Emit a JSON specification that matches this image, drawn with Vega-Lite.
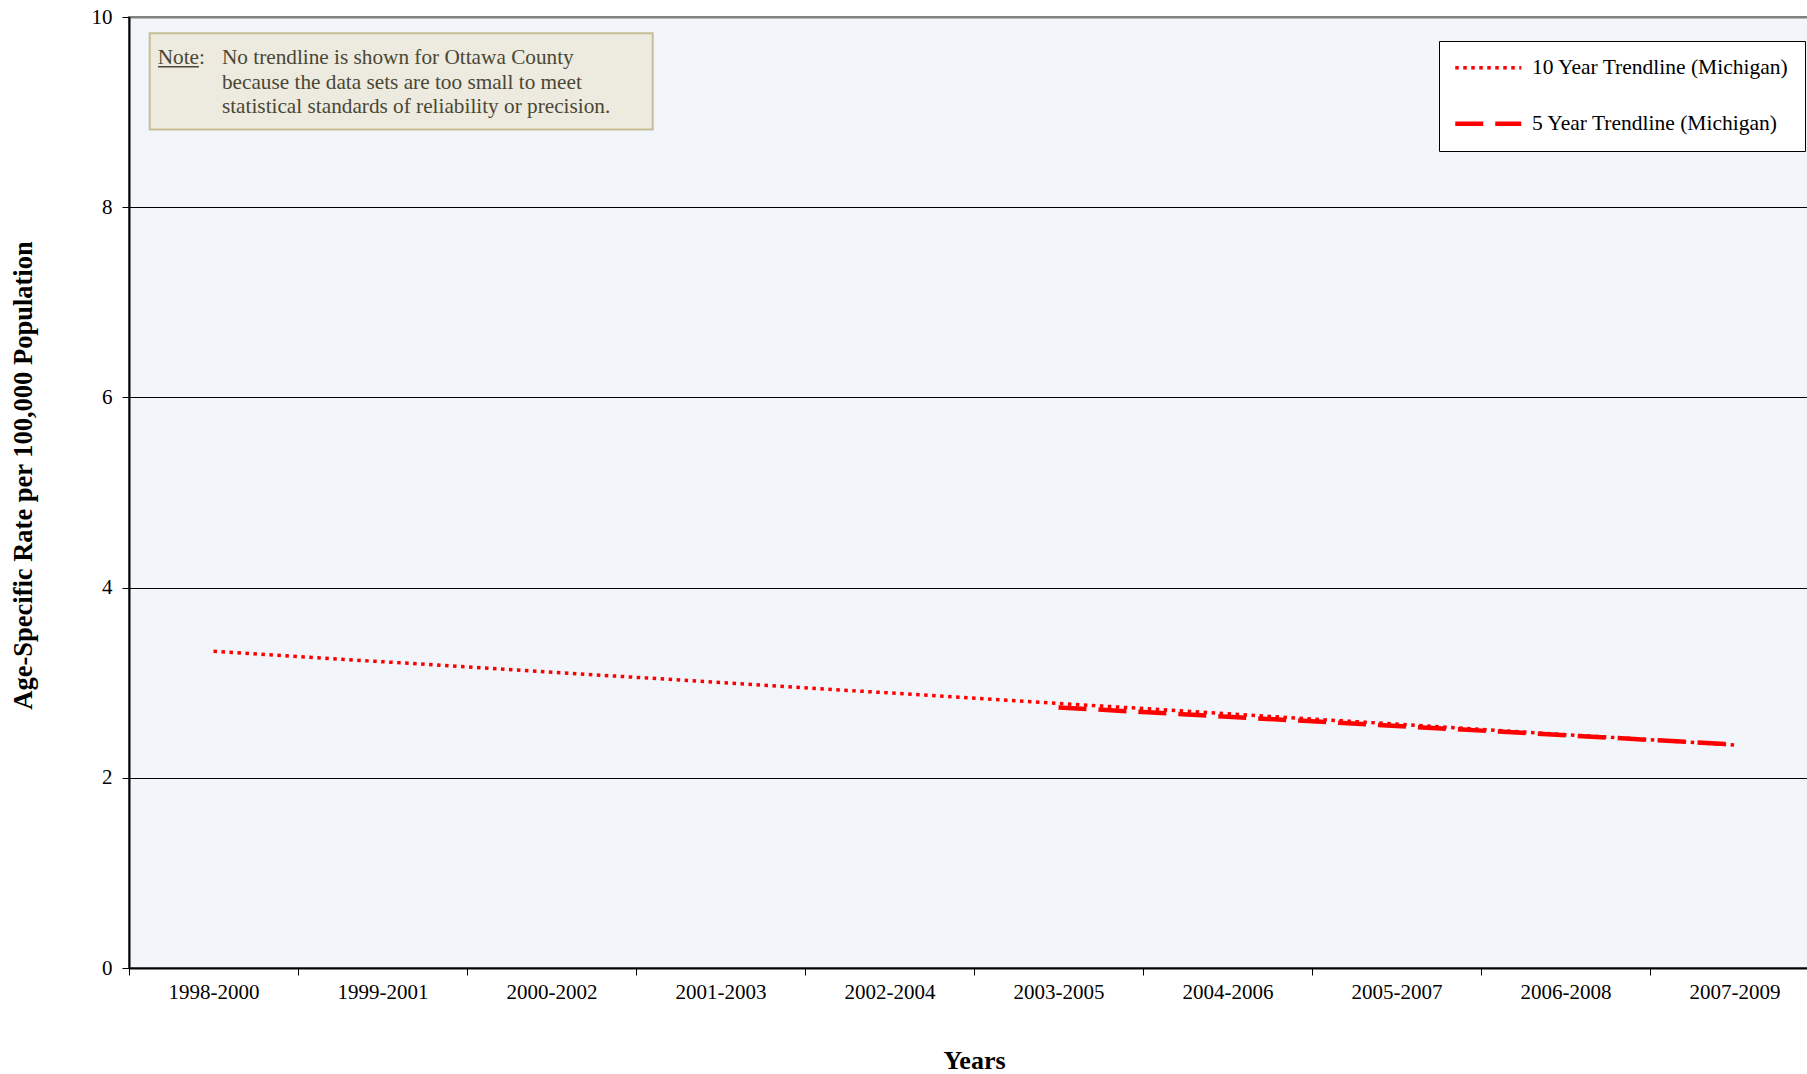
{
  "$schema": "https://vega.github.io/schema/vega-lite/v6.json",
  "autosize": "none",
  "width": 1690,
  "height": 951,
  "padding": {"left": 129, "top": 17, "right": 0, "bottom": 106},
  "background": "white",
  "config": {
    "font": "Liberation Serif",
    "view": {"fill": "#F2F5FA", "stroke": "#808080", "strokeWidth": 2},
    "legend": {
      "orient": "none",
      "legendX": 1310,
      "legendY": 24,
      "fillColor": "white",
      "strokeColor": "black",
      "strokeWidth": 1,
      "padding": 16,
      "cornerRadius": 0,
      "symbolType": "M-4.125,0H4.125",
      "symbolSize": 256,
      "symbolOffset": 22.5,
      "labelOffset": 33,
      "rowPadding": 33,
      "labelFont": "Liberation Serif",
      "labelFontSize": 21.5,
      "labelColor": "black",
      "labelLimit": 0
    }
  },
  "datasets": {
    "trend": [
      {"period": "1998-2000", "rate": 3.33, "series": "10 Year Trendline (Michigan)"},
      {"period": "2007-2009", "rate": 2.345, "series": "10 Year Trendline (Michigan)"},
      {"period": "2003-2005", "rate": 2.74, "series": "5 Year Trendline (Michigan)"},
      {"period": "2007-2009", "rate": 2.35, "series": "5 Year Trendline (Michigan)"}
    ],
    "note": [
      {"label": "Note:", "body": "No trendline is shown for Ottawa County\nbecause the data sets are too small to meet\nstatistical standards of reliability or precision."}
    ]
  },
  "resolve": {"scale": {"x": "independent", "y": "independent"}},
  "layer": [
    {
      "data": {"name": "note"},
      "mark": {"type": "rect", "fill": "#EDEAE0", "stroke": "#C8BE96", "strokeWidth": 2},
      "encoding": {
        "x": {"datum": 0.1225, "type": "quantitative", "scale": {"domain": [0, 10], "nice": false, "zero": false}, "axis": null},
        "x2": {"datum": 3.099},
        "y": {"datum": 9.829, "type": "quantitative", "scale": {"domain": [0, 10], "nice": false, "zero": false}, "axis": null},
        "y2": {"datum": 8.818}
      }
    },
    {
      "data": {"name": "note"},
      "mark": {"type": "rule", "stroke": "#4A4733", "strokeWidth": 1.5},
      "encoding": {
        "x": {"datum": 0.172, "type": "quantitative", "scale": {"domain": [0, 10], "nice": false, "zero": false}, "axis": null},
        "x2": {"datum": 0.414},
        "y": {"datum": 9.478, "type": "quantitative", "scale": {"domain": [0, 10], "nice": false, "zero": false}, "axis": null}
      }
    },
    {
      "data": {"name": "note"},
      "mark": {"type": "text", "align": "left", "baseline": "alphabetic", "font": "Liberation Serif", "fontSize": 21.25, "color": "#4A4733"},
      "encoding": {
        "x": {"datum": 0.17, "type": "quantitative", "scale": {"domain": [0, 10], "nice": false, "zero": false}, "axis": null},
        "y": {"datum": 9.506, "type": "quantitative", "scale": {"domain": [0, 10], "nice": false, "zero": false}, "axis": null},
        "text": {"field": "label"}
      }
    },
    {
      "data": {"name": "note"},
      "mark": {"type": "text", "align": "left", "baseline": "alphabetic", "font": "Liberation Serif", "fontSize": 21.25, "color": "#4A4733", "lineBreak": "\n", "lineHeight": 24.75},
      "encoding": {
        "x": {"datum": 0.55, "type": "quantitative", "scale": {"domain": [0, 10], "nice": false, "zero": false}, "axis": null},
        "y": {"datum": 9.506, "type": "quantitative", "scale": {"domain": [0, 10], "nice": false, "zero": false}, "axis": null},
        "text": {"field": "body"}
      }
    },
    {
      "data": {"name": "trend"},
      "mark": {"type": "line", "strokeCap": "butt"},
      "encoding": {
        "x": {
          "field": "period",
          "type": "nominal",
          "scale": {
            "type": "band",
            "domain": ["1998-2000", "1999-2001", "2000-2002", "2001-2003", "2002-2004", "2003-2005", "2004-2006", "2005-2007", "2006-2008", "2007-2009"],
            "paddingInner": 0,
            "paddingOuter": 0
          },
          "axis": {
            "title": "Years",
            "titleFont": "Liberation Serif",
            "titleFontSize": 26,
            "titleFontWeight": "bold",
            "titleColor": "black",
            "titleY": 100,
            "titleBaseline": "alphabetic",
            "labelAngle": 0,
            "labelFont": "Liberation Serif",
            "labelFontSize": 21,
            "labelColor": "black",
            "labelPadding": 6,
            "tickSize": 7,
            "tickColor": "black",
            "tickBand": "extent",
            "domainColor": "black",
            "domainWidth": 2,
            "grid": false
          }
        },
        "y": {
          "field": "rate",
          "type": "quantitative",
          "scale": {"domain": [0, 10], "nice": false, "zero": false},
          "axis": {
            "title": "Age-Specific Rate per 100,000 Population",
            "titleFont": "Liberation Serif",
            "titleFontSize": 26.5,
            "titleFontWeight": "bold",
            "titleColor": "black",
            "titleX": -106,
            "titleY": 458,
            "titleBaseline": "middle",
            "titleAngle": -90,
            "values": [0, 2, 4, 6, 8, 10],
            "labelFont": "Liberation Serif",
            "labelFontSize": 21,
            "labelColor": "black",
            "labelPadding": 10,
            "tickSize": 7,
            "tickColor": "black",
            "domainColor": "black",
            "domainWidth": 2,
            "grid": true,
            "gridColor": {"condition": {"test": "datum.value == 10", "value": "#808080"}, "value": "#000000"},
            "gridWidth": {"condition": {"test": "datum.value == 10", "value": 2}, "value": 1}
          }
        },
        "color": {
          "field": "series",
          "type": "nominal",
          "scale": {"domain": ["10 Year Trendline (Michigan)", "5 Year Trendline (Michigan)"], "range": ["#FF0000", "#FF0000"]},
          "legend": {"title": null}
        },
        "strokeDash": {
          "field": "series",
          "type": "nominal",
          "scale": {"domain": ["10 Year Trendline (Michigan)", "5 Year Trendline (Michigan)"], "range": [[3.5, 4.5], [28, 12]]},
          "legend": {"title": null}
        },
        "strokeWidth": {
          "field": "series",
          "type": "nominal",
          "scale": {"domain": ["10 Year Trendline (Michigan)", "5 Year Trendline (Michigan)"], "range": [3.5, 4.5]},
          "legend": {"title": null}
        }
      }
    }
  ]
}
